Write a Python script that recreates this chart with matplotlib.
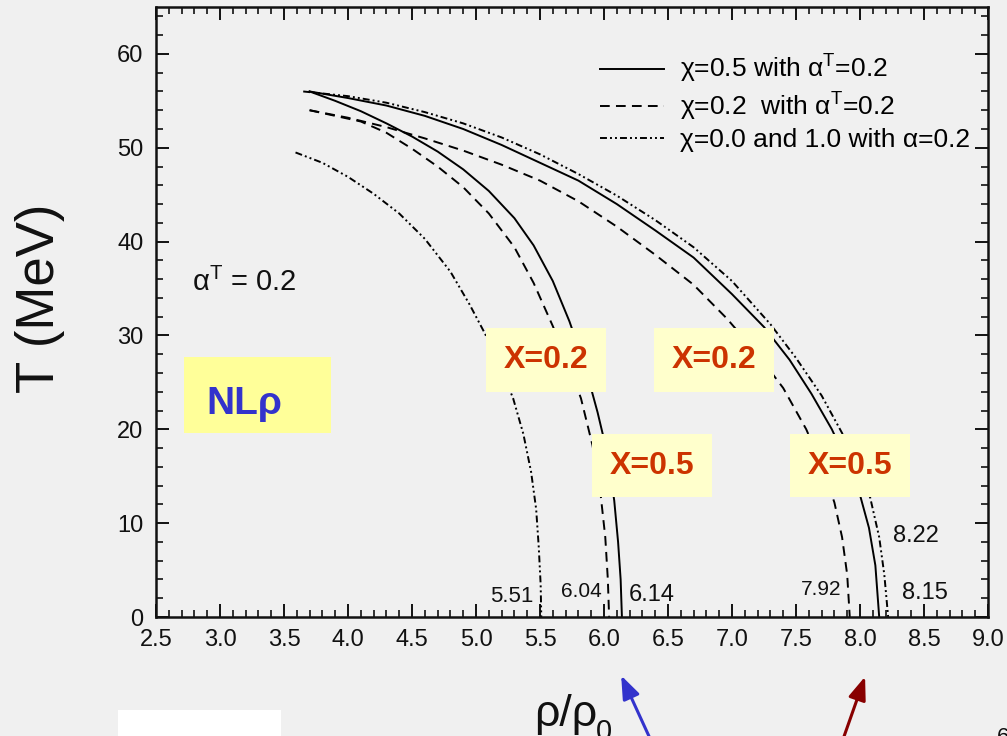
import matplotlib
matplotlib.use("Agg")
import matplotlib.pyplot as plt
from matplotlib import font_manager
from matplotlib.patches import Rectangle, FancyArrowPatch
from matplotlib.ticker import MultipleLocator, FormatStrFormatter

# ---- phase boundaries: temperature T (MeV) against density rho/rho0 ----
# chi = 0.0 and 1.0 with alpha = 0.2 (dash-dot-dot)
ddot_low_rho = [3.59, 3.80, 4.00, 4.20, 4.40, 4.60, 4.80, 4.95, 5.07, 5.18, 5.29,
                5.37, 5.43, 5.47, 5.49, 5.505, 5.51]
ddot_low_T = [49.5, 48.4, 46.9, 45.1, 43.0, 40.3, 36.8, 33.3, 30.2, 27.0, 23.3,
              19.5, 15.5, 11.5, 7.5, 3.5, 0.0]
ddot_high_rho = [3.65, 4.00, 4.30, 4.60, 4.90, 5.20, 5.50, 5.80, 6.10, 6.40, 6.70,
                 7.00, 7.30, 7.50, 7.70, 7.86, 7.98, 8.08, 8.15, 8.19, 8.22]
ddot_high_T = [56.0, 55.5, 54.8, 53.8, 52.6, 51.1, 49.3, 47.2, 44.9, 42.3, 39.4,
               35.8, 31.2, 27.6, 23.6, 19.6, 16.0, 12.7, 8.5, 4.5, 0.0]

# chi = 0.2 with alpha^T = 0.2 (dashed)
dash_low_rho = [3.70, 3.90, 4.10, 4.30, 4.50, 4.70, 4.90, 5.10, 5.30, 5.45, 5.60,
                5.72, 5.82, 5.91, 5.97, 6.01, 6.03, 6.04]
dash_low_T = [54.0, 53.4, 52.8, 51.6, 49.9, 48.0, 45.8, 43.0, 39.4, 35.6, 31.0,
              27.0, 23.3, 18.3, 13.5, 8.5, 4.0, 0.0]
dash_high_rho = [3.70, 4.00, 4.30, 4.60, 4.90, 5.20, 5.50, 5.80, 6.10, 6.40, 6.70,
                 6.96, 7.20, 7.40, 7.58, 7.70, 7.80, 7.86, 7.90, 7.92]
dash_high_T = [54.0, 53.2, 52.2, 51.0, 49.7, 48.2, 46.5, 44.3, 41.6, 38.6, 35.4,
               31.8, 28.0, 24.4, 20.0, 16.2, 12.2, 8.5, 4.5, 0.0]

# chi = 0.5 with alpha^T = 0.2 (solid)
solid_low_rho = [3.70, 3.90, 4.10, 4.30, 4.50, 4.70, 4.90, 5.10, 5.30, 5.45, 5.60,
                 5.73, 5.85, 5.95, 6.03, 6.08, 6.11, 6.13, 6.14]
solid_low_T = [56.0, 55.0, 53.9, 52.6, 51.2, 49.6, 47.7, 45.4, 42.5, 39.6, 35.8,
               31.5, 26.8, 21.8, 17.2, 12.4, 8.0, 4.0, 0.0]
solid_high_rho = [3.70, 4.00, 4.30, 4.60, 4.90, 5.20, 5.50, 5.80, 6.10, 6.40, 6.70,
                  7.00, 7.25, 7.45, 7.62, 7.78, 7.90, 8.00, 8.07, 8.12, 8.15]
solid_high_T = [56.0, 55.3, 54.5, 53.4, 52.0, 50.3, 48.4, 46.5, 44.0, 41.2, 38.3,
                34.4, 30.9, 27.4, 23.8, 20.0, 16.5, 13.0, 9.5, 5.5, 0.0]

# T = 0 end points written next to the curves, with label positions
end_labels = ["5.51", "6.04", "6.14", "7.92", "8.15", "8.22"]
end_label_x = [5.28, 5.82, 6.375, 7.70, 8.51, 8.44]
end_label_y = [2.2, 2.7, 2.3, 2.9, 2.6, 8.6]
end_label_size = [16, 15, 17, 15, 17, 17]

x_ticks = [2.5 + 0.5 * i for i in range(14)]
y_ticks = [0, 10, 20, 30, 40, 50, 60]

legend_labels = [
    "χ=0.5 with α$^{\\mathrm{T}}$=0.2",
    "χ=0.2  with α$^{\\mathrm{T}}$=0.2",
    "χ=0.0 and 1.0 with α=0.2",
]

# ---- style ----
BG = "#f0f0f0"
SANS = "Liberation Sans"
installed = {f.name for f in font_manager.fontManager.ttflist}
NARROW = "Liberation Sans Narrow" if "Liberation Sans Narrow" in installed else SANS

plt.rcParams["font.family"] = [SANS, "DejaVu Sans"]
plt.rcParams["mathtext.fontset"] = "custom"
plt.rcParams["mathtext.rm"] = SANS
plt.rcParams["mathtext.it"] = SANS + ":italic"
plt.rcParams["mathtext.bf"] = SANS + ":bold"
plt.rcParams["lines.scale_dashes"] = False

W, H = 1007, 736
fig = plt.figure(figsize=(W / 100, H / 100), dpi=100, facecolor=BG)


def fx(px):
    return px / W


def fy(py):
    return 1 - py / H


ax = fig.add_axes([fx(156), fy(617), fx(988) - fx(156), fy(7) - fy(617)])
ax.set_facecolor(BG)

DASH = (0, (7, 4.5))
DDOT = (0, (5, 2.2, 1.4, 2.2, 1.4, 2.2))
LW = 1.4

l_solid, = ax.plot(solid_low_rho, solid_low_T, color="black", lw=LW, ls="-")
ax.plot(solid_high_rho, solid_high_T, color="black", lw=LW, ls="-")
l_dash, = ax.plot(dash_low_rho, dash_low_T, color="black", lw=LW, ls=DASH)
ax.plot(dash_high_rho, dash_high_T, color="black", lw=LW, ls=DASH)
l_ddot, = ax.plot(ddot_low_rho, ddot_low_T, color="black", lw=LW, ls=DDOT)
ax.plot(ddot_high_rho, ddot_high_T, color="black", lw=LW, ls=DDOT)

for txt, x, y, s in zip(end_labels, end_label_x, end_label_y, end_label_size):
    ax.text(x, y, txt, ha="center", va="center", fontsize=s, color="#111111")

fig.text(fx(192), fy(282), "α$^{\\mathrm{T}}$ = 0.2", ha="left", va="center",
         fontsize=21, color="#111111")

leg = ax.legend([l_solid, l_dash, l_ddot], legend_labels, loc="upper right",
                bbox_to_anchor=(fx(970), fy(53)), bbox_transform=fig.transFigure,
                frameon=False, fontsize=19, handlelength=2.4, handletextpad=0.62,
                labelspacing=0.2, borderpad=0.0, borderaxespad=0.0)

ax.set_xlim(2.5, 9.0)
ax.set_ylim(0, 65)
ax.set_xticks(x_ticks)
ax.set_yticks(y_ticks)
ax.xaxis.set_major_formatter(FormatStrFormatter("%.1f"))
ax.xaxis.set_minor_locator(MultipleLocator(0.1))
ax.yaxis.set_minor_locator(MultipleLocator(2))
ax.tick_params(which="both", direction="in", top=True, right=True, colors="#111111")
ax.tick_params(which="major", length=9.5, width=1.4, labelsize=17, pad=9)
ax.tick_params(which="minor", length=5, width=1.2)
for sp in ax.spines.values():
    sp.set_linewidth(1.8)
    sp.set_color("#111111")

# axis titles
fig.text(fx(40), fy(298), "T (MeV)", rotation=90, ha="center", va="center",
         fontsize=38, color="#111111")
fig.text(fx(534), fy(726), "ρ/ρ", ha="left", va="baseline", fontsize=32, color="#111111")
fig.text(fx(596), fy(718), "0", ha="left", va="top", fontsize=21, color="#111111")

# highlighted tags
tag_boxes = [
    (486, 328, 606, 392, "X=0.2"),
    (654, 328, 774, 392, "X=0.2"),
    (592, 434, 712, 497, "X=0.5"),
    (790, 434, 910, 497, "X=0.5"),
]
for x0, y0, x1, y1, label in tag_boxes:
    fig.add_artist(Rectangle((fx(x0), fy(y1)), fx(x1) - fx(x0), fy(y0) - fy(y1),
                             transform=fig.transFigure, facecolor="#ffffcc",
                             edgecolor="none", zorder=3))
    fig.text(fx((x0 + x1) / 2), fy((y0 + y1) / 2), label, ha="center", va="center",
             fontsize=23, fontweight="bold", family=NARROW, color="#cc3300", zorder=4)

fig.add_artist(Rectangle((fx(184), fy(433)), fx(331) - fx(184), fy(357) - fy(433),
                         transform=fig.transFigure, facecolor="#ffff99",
                         edgecolor="none", zorder=3))
fig.text(fx(206), fy(414), "NLρ", ha="left", va="baseline", fontsize=28,
         fontweight="bold", family=NARROW, color="#3333cc", zorder=4)

# white tab at the lower left
fig.add_artist(Rectangle((fx(118), 0), fx(281) - fx(118), fy(710),
                         transform=fig.transFigure, facecolor="white",
                         edgecolor="none", zorder=3))

# pointer arrows
for tail, tip, col in [((653, 745), (620, 673), "#3333cc"),
                       ((841, 745), (866, 674), "#880000")]:
    fig.add_artist(FancyArrowPatch((fx(tail[0]), fy(tail[1])), (fx(tip[0]), fy(tip[1])),
                                   transform=fig.transFigure,
                                   arrowstyle="-|>,head_length=1.0,head_width=0.38",
                                   mutation_scale=14, lw=2.2, color=col, zorder=5))

fig.text(fx(997), fy(727), "6", ha="left", va="top", fontsize=16, color="#111111")

fig.savefig("out.png", dpi=100, facecolor=BG)
